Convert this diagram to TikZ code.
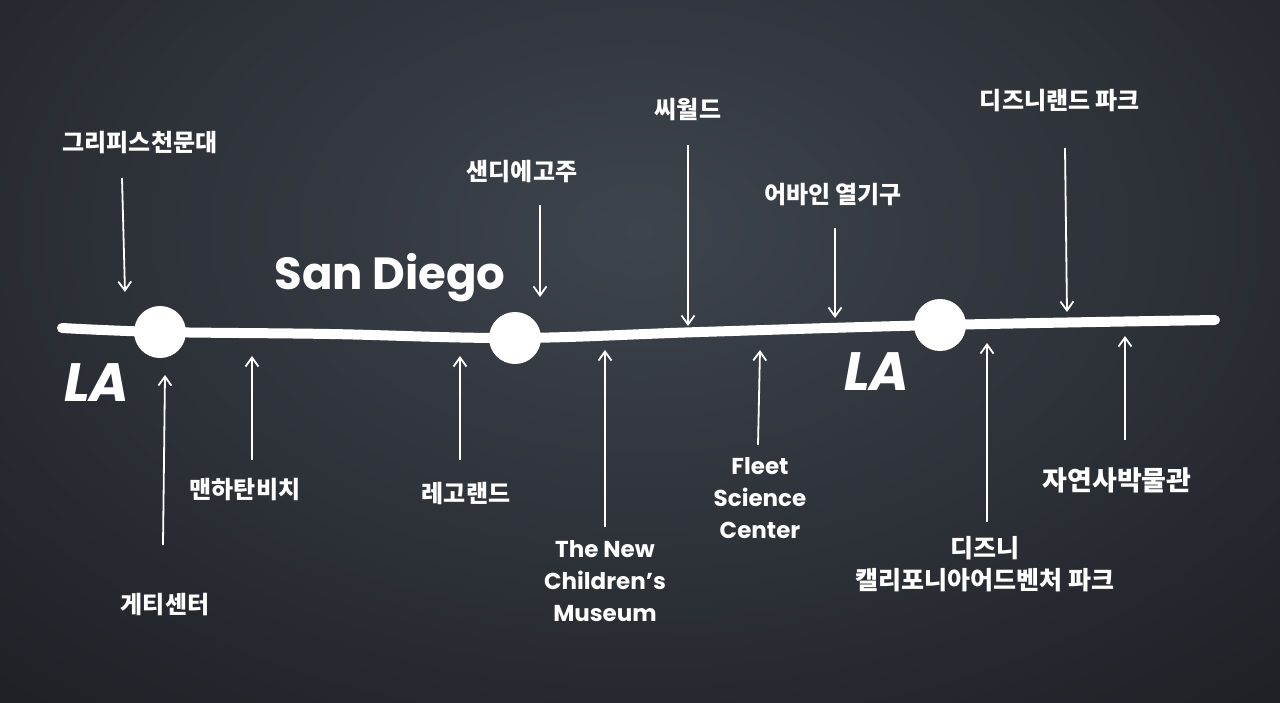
\documentclass[tikz,border=0pt]{standalone}
\usepackage{fontspec}
\setmainfont{Poppins}
\newfontfamily\kr{Noto Sans CJK KR}
\usetikzlibrary{arrows.meta}
\definecolor{bgdark}{HTML}{1E2126}
\definecolor{bglight}{HTML}{3E444D}
\tikzset{
  kor/.style={text=white,font=\kr\bfseries\fontsize{24}{28}\selectfont,inner sep=0pt},
  eng/.style={text=white,font=\bfseries\fontsize{23}{32}\selectfont,align=center,inner sep=0pt},
  big/.style={text=white,font=\bfseries\fontsize{45}{48}\selectfont,inner sep=0pt},
  bigla/.style={text=white,font=\bfseries\itshape\fontsize{54}{58}\selectfont,inner sep=0pt},
  pin/.style={draw=white,line width=1.8pt,-{Straight Barb[length=9pt,width=13pt,line width=1.8pt]}},
  stop/.style={circle,fill=white,minimum size=52pt,inner sep=0pt},
  route/.style={draw=white,line width=10pt,line cap=round}
}
\begin{document}
\begin{tikzpicture}[x=1pt,y=-1pt]
\useasboundingbox (0,0) rectangle (1280,702);
\begin{scope}
\clip (0,0) rectangle (1280,702);
\fill[bgdark] (-10,-10) rectangle (1290,712);
\shade[inner color=bglight,outer color=bgdark] (640,230) ellipse [x radius=950,y radius=620];
\end{scope}
% route
\draw[route] plot[smooth,tension=0.6] coordinates {(62,328) (160,332) (330,334) (515,338) (700,332) (940,325) (1215,320)};
\node[stop] (la1) at (160,332) {};
\node[stop] (sd) at (515,338) {};
\node[stop] (la2) at (940,325) {};
% big labels
\node[bigla] (tla1) at (97,383) {LA};
\node[bigla] (tla2) at (877,372) {LA};
\node[big] (tsd) at (390,278) {San Diego};
% labels
\node[kor] (griffith) at (140,143) {그리피스천문대};
\node[kor] (getty) at (165,605) {게티센터};
\node[kor] (manhattan) at (245,490) {맨하탄비치};
\node[kor] (zoo) at (522,172) {샌디에고주};
\node[kor] (lego) at (466,493) {레고랜드};
\node[eng] (museum) at (605,581) {The New\\Children's\\Museum};
\node[kor] (seaworld) at (688,110) {씨월드};
\node[eng] (fleet) at (760,498) {Fleet\\Science\\Center};
\node[kor] (irvine) at (833,195) {어바인 열기구};
\node[kor] (disneyland) at (1060,101) {디즈니랜드 파크};
\node[kor,align=center,font=\kr\bfseries\fontsize{25}{32}\selectfont] (dca) at (985,564) {디즈니\\캘리포니아어드벤처 파크};
\node[kor,font=\kr\bfseries\fontsize{27}{30}\selectfont] (natural) at (1117,480) {자연사박물관};
% arrow anchors
\coordinate (a1s) at (122,178); \coordinate (a1e) at (125,292);
\coordinate (a2s) at (163,545); \coordinate (a2e) at (165,375);
\coordinate (a3s) at (252,460); \coordinate (a3e) at (252,356);
\coordinate (a4s) at (540,205); \coordinate (a4e) at (540,297);
\coordinate (a5s) at (460,460); \coordinate (a5e) at (460,356);
\coordinate (a6s) at (605,527); \coordinate (a6e) at (605,350);
\coordinate (a7s) at (688,145); \coordinate (a7e) at (688,326);
\coordinate (a8s) at (758,445); \coordinate (a8e) at (760,350);
\coordinate (a9s) at (835,228); \coordinate (a9e) at (835,318);
\coordinate (a10s) at (1065,148); \coordinate (a10e) at (1067,312);
\coordinate (a11s) at (987,522); \coordinate (a11e) at (987,343);
\coordinate (a12s) at (1125,440); \coordinate (a12e) at (1125,336);
\draw[pin] (a1s) -- (a1e);
\draw[pin] (a2s) -- (a2e);
\draw[pin] (a3s) -- (a3e);
\draw[pin] (a4s) -- (a4e);
\draw[pin] (a5s) -- (a5e);
\draw[pin] (a6s) -- (a6e);
\draw[pin] (a7s) -- (a7e);
\draw[pin] (a8s) -- (a8e);
\draw[pin] (a9s) -- (a9e);
\draw[pin] (a10s) -- (a10e);
\draw[pin] (a11s) -- (a11e);
\draw[pin] (a12s) -- (a12e);
\end{tikzpicture}
\end{document}
